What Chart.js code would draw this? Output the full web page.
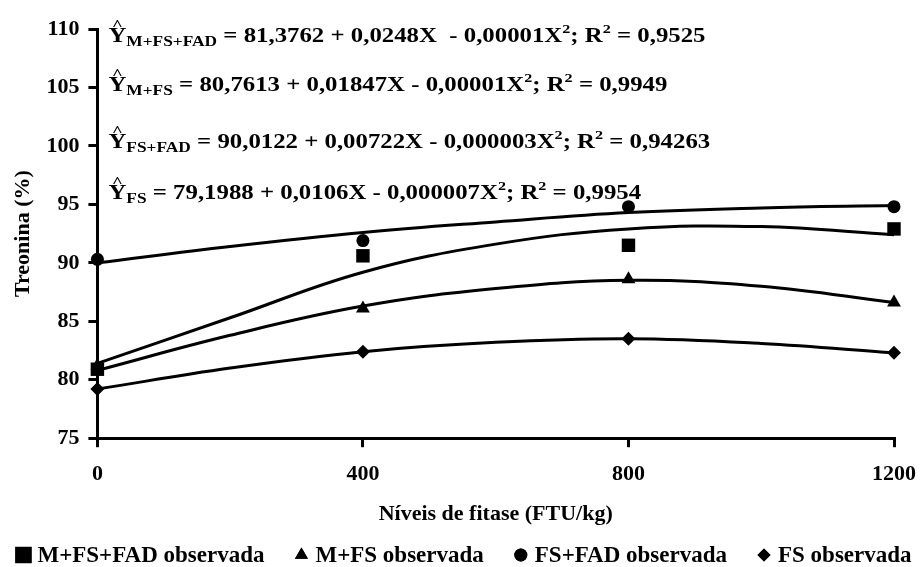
<!DOCTYPE html>
<html>
<head>
<meta charset="utf-8">
<script src="https://cdn.jsdelivr.net/npm/chart.js@4.4.1/dist/chart.umd.min.js"></script>
<style>
  html, body { margin: 0; padding: 0; background: #fff; }
  #wrap { width: 921px; height: 567px; }
</style>
</head>
<body>
<div id="wrap"><canvas id="grafico" width="921" height="567"></canvas></div>
<script>
// niveis de fitase e valores observados
const niveis = [0, 400, 800, 1200];
const obsMFSFAD = [80.9, 90.6, 91.5, 92.9];
const obsMFS = [81.2, 86.1, 88.6, 86.6];
const obsFSFAD = [90.3, 91.9, 94.8, 94.8];
const obsFS = [79.2, 82.4, 83.5, 82.3];

// curvas ajustadas
const nivCurva = [0, 200, 400, 600, 800, 1000, 1200];
const curMFSFAD = [81.4, 85.3, 89.2, 91.6, 92.9, 93.1, 92.4];
const curMFS = [80.8, 83.8, 86.3, 87.8, 88.5, 88.0, 86.6];
const curFSFAD = [90.0, 91.4, 92.6, 93.5, 94.3, 94.7, 94.9];
const curFS = [79.2, 81.0, 82.4, 83.2, 83.5, 83.1, 82.3];

const nomes = ["M+FS+FAD observada", "M+FS observada", "FS+FAD observada", "FS observada"];
const subs = ["M+FS+FAD", "M+FS", "FS+FAD", "FS"];
const equacoes = [" = 81,3762 + 0,0248X  - 0,00001X", " = 80,7613 + 0,01847X - 0,00001X",
  " = 90,0122 + 0,00722X - 0,000003X", " = 79,1988 + 0,0106X - 0,000007X"];
const r2 = [" = 0,9525", " = 0,9949", " = 0,94263", " = 0,9954"];
const yEq = [109.5, 105.3, 100.4, 96.1];

const fonte = "'Liberation Serif', 'Times New Roman', serif";

function pares(xs, ys){
  return xs.map((x, i) => ({x: x, y: ys[i]}));
}

function pontos(nome, ys, estilo, raio, raioLeg){
  return {
    label: nome, data: pares(niveis, ys), showLine: false,
    pointStyle: estilo, pointRadius: raio, pointHoverRadius: raio,
    backgroundColor: '#000', borderColor: '#000', borderWidth: 0,
    raioLegenda: raioLeg
  };
}

function curva(ys){
  return {
    label: '', data: pares(nivCurva, ys), showLine: true, pointRadius: 0,
    borderColor: '#000', borderWidth: 3, tension: 0.4, fill: false
  };
}

// escreve as equacoes com chapeu, subscrito e sobrescrito
const pluginEq = {
  id: 'equacoes',
  afterDraw(chart){
    const ctx = chart.ctx;
    const xs = chart.scales.x, ys = chart.scales.y;
    const esticar = 1.24;
    ctx.save();
    ctx.fillStyle = '#000';
    ctx.textBaseline = 'alphabetic';
    for (let i = 0; i < equacoes.length; i++){
      const x0 = xs.getPixelForValue(0) + 11;
      const y = ys.getPixelForValue(yEq[i]) + 7;
      ctx.save();
      ctx.translate(x0, y);
      ctx.scale(esticar, 1);
      let x = 0;
      ctx.font = "bold 20px " + fonte;
      const wY = ctx.measureText('Y').width;
      ctx.fillText('Y', x, 0);
      ctx.font = "bold 15px " + fonte;
      ctx.fillText('^', x + wY / 2 - ctx.measureText('^').width / 2, -12);
      x += wY;
      ctx.font = "bold 14px " + fonte;
      ctx.fillText(subs[i], x, 4);
      x += ctx.measureText(subs[i]).width;
      ctx.font = "bold 20px " + fonte;
      ctx.fillText(equacoes[i], x, 0);
      x += ctx.measureText(equacoes[i]).width;
      ctx.font = "bold 13px " + fonte;
      ctx.fillText('2', x, -9);
      x += ctx.measureText('2').width;
      ctx.font = "bold 20px " + fonte;
      ctx.fillText('; R', x, 0);
      x += ctx.measureText('; R').width;
      ctx.font = "bold 13px " + fonte;
      ctx.fillText('2', x, -9);
      x += ctx.measureText('2').width;
      ctx.font = "bold 20px " + fonte;
      ctx.fillText(r2[i], x, 0);
      ctx.restore();
    }
    ctx.restore();
  }
};

// legenda em uma linha no rodape
const pluginLegenda = {
  id: 'legendaRodape',
  afterDraw(chart){
    const ctx = chart.ctx;
    const itens = chart.data.datasets.filter((d) => d.label !== '');
    const yc = chart.height - 12;
    const tamMarca = 16, folga = 6, espaco = 29;
    ctx.save();
    ctx.font = "bold 23px " + fonte;
    ctx.textBaseline = 'middle';
    ctx.fillStyle = '#000';
    let total = 0;
    itens.forEach((d, i) => {
      total += tamMarca + folga + ctx.measureText(d.label).width + (i > 0 ? espaco : 0);
    });
    let x = (chart.width - total) / 2 + 3;
    itens.forEach((d) => {
      Chart.helpers.drawPoint(ctx, {pointStyle: d.pointStyle, radius: d.raioLegenda, borderWidth: 0},
        x + tamMarca / 2, yc);
      ctx.fill();
      x += tamMarca + folga;
      ctx.fillText(d.label, x, yc + 1);
      x += ctx.measureText(d.label).width + espaco;
    });
    ctx.restore();
  }
};

const ctx = document.getElementById('grafico').getContext('2d');
const grafico = new Chart(ctx, {
  type: 'scatter',
  data: {
    datasets: [
      pontos(nomes[0], obsMFSFAD, 'rect', 9.5, 11.5),
      pontos(nomes[1], obsMFS, 'triangle', 8, 7.5),
      pontos(nomes[2], obsFSFAD, 'circle', 6.5, 6.5),
      pontos(nomes[3], obsFS, 'rectRot', 7, 6.5),
      curva(curMFSFAD),
      curva(curMFS),
      curva(curFSFAD),
      curva(curFS)
    ]
  },
  options: {
    responsive: false,
    animation: false,
    clip: false,
    layout: { padding: { left: 10, right: 0, top: 29, bottom: 35 } },
    scales: {
      x: {
        type: 'linear', min: 0, max: 1200,
        afterFit: (escala) => { escala.paddingRight = 27; },
        ticks: { stepSize: 400, color: '#000', font: { family: fonte, size: 22, weight: 'bold' }, padding: 14,
          callback: (v) => String(v) },
        grid: { drawOnChartArea: false, color: '#000', lineWidth: 3, tickLength: 9 },
        border: { color: '#000', width: 3 },
        title: { display: true, text: 'Níveis de fitase (FTU/kg)', color: '#000',
          font: { family: fonte, size: 22, weight: 'bold' }, padding: { top: 0, bottom: 4 } }
      },
      y: {
        min: 75, max: 110,
        ticks: { stepSize: 5, color: '#000', font: { family: fonte, size: 22, weight: 'bold' }, padding: 9 },
        grid: { drawOnChartArea: false, color: '#000', lineWidth: 3, tickLength: 9 },
        border: { color: '#000', width: 3 },
        title: { display: true, text: 'Treonina (%)', color: '#000',
          font: { family: fonte, size: 22, weight: 'bold' }, padding: { top: 0, bottom: 1 } }
      }
    },
    plugins: {
      legend: { display: false },
      tooltip: { enabled: false }
    }
  },
  plugins: [pluginEq, pluginLegenda]
});
</script>
</body>
</html>
